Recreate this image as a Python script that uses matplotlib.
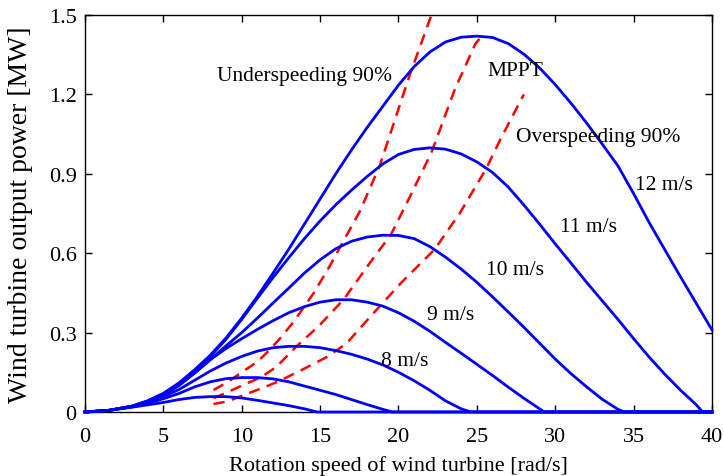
import matplotlib
matplotlib.use("Agg")
import matplotlib.pyplot as plt

# ---- data ----
w6_x = [0, 1.5, 3, 4, 5, 6, 7, 8, 9, 10, 11, 12, 13, 14, 14.8, 40]
w6_y = [0, 0.006, 0.018, 0.027, 0.036, 0.047, 0.055, 0.058, 0.058, 0.053, 0.044, 0.034, 0.024, 0.012, 0.0, 0.0]

w7_x = [0, 1.5, 3, 4, 5, 6, 7, 8, 9, 10, 11, 12, 13, 14, 15, 16, 17, 18, 19, 19.6, 40]
w7_y = [0, 0.006, 0.020, 0.033, 0.050, 0.070, 0.095, 0.114, 0.126, 0.130, 0.130, 0.125, 0.114, 0.098,
        0.082, 0.066, 0.047, 0.028, 0.010, 0.0, 0.0]

w8_x = [0, 1.5, 3, 4, 5, 6, 7, 8, 9, 10, 11, 12, 13, 14, 15, 16, 17, 18, 19, 20, 21, 22, 23, 24, 24.6, 40]
w8_y = [0, 0.006, 0.020, 0.035, 0.058, 0.085, 0.120, 0.155, 0.185, 0.210, 0.230, 0.243, 0.248, 0.248,
        0.243, 0.232, 0.218, 0.200, 0.178, 0.150, 0.118, 0.082, 0.042, 0.012, 0.0, 0.0]

w9_x = [0, 1.5, 3, 4, 5, 6, 7, 8, 9, 10, 11, 12, 13, 14, 15, 16, 17, 18, 19, 20, 21, 22, 23, 24, 25,
        26, 27, 28, 29, 29.3, 40]
w9_y = [0, 0.006, 0.020, 0.038, 0.063, 0.100, 0.148, 0.198, 0.240, 0.277, 0.312, 0.345, 0.375, 0.398,
        0.415, 0.424, 0.424, 0.415, 0.400, 0.375, 0.343, 0.305, 0.263, 0.222, 0.180, 0.138, 0.094,
        0.052, 0.012, 0.0, 0.0]

w10_x = [0, 1.5, 3, 4, 5, 6, 7, 8, 9, 10, 11, 12, 13, 14, 15, 16, 17, 18, 19, 20, 21, 22, 23, 24, 25,
         26, 27, 28, 29, 30, 31, 32, 33, 34, 34.4, 40]
w10_y = [0, 0.006, 0.022, 0.040, 0.068, 0.102, 0.147, 0.198, 0.250, 0.300, 0.355, 0.412, 0.468, 0.525,
         0.575, 0.617, 0.645, 0.661, 0.668, 0.667, 0.655, 0.625, 0.585, 0.540, 0.490, 0.435, 0.378,
         0.320, 0.260, 0.200, 0.145, 0.095, 0.048, 0.010, 0.0, 0.0]

w11_x = [0, 1.5, 3, 4, 5, 6, 7, 8, 9, 10, 11, 12, 13, 14, 15, 16, 17, 18, 19, 20, 21, 22, 23, 24, 25,
         26, 27, 28, 29, 30, 31, 32, 33, 34, 35, 36, 37, 38, 39, 39.4, 40]
w11_y = [0, 0.006, 0.022, 0.042, 0.070, 0.108, 0.155, 0.210, 0.275, 0.350, 0.430, 0.508, 0.583, 0.655,
         0.722, 0.783, 0.838, 0.890, 0.937, 0.973, 0.992, 0.998, 0.993, 0.975, 0.945, 0.905, 0.850,
         0.782, 0.710, 0.635, 0.563, 0.490, 0.420, 0.350, 0.277, 0.207, 0.142, 0.082, 0.027, 0.0, 0.0]

w12_x = [0, 1.5, 3, 4, 5, 6, 7, 8, 9, 10, 11, 12, 13, 14, 15, 16, 17, 18, 19, 20, 21, 22, 23, 24, 25,
         26, 27, 28, 29, 30, 31, 32, 33, 34, 35, 36, 37, 38, 39, 40]
w12_y = [0, 0.006, 0.022, 0.042, 0.070, 0.110, 0.160, 0.215, 0.280, 0.355, 0.437, 0.525, 0.615, 0.710,
         0.805, 0.900, 0.990, 1.075, 1.155, 1.235, 1.305, 1.360, 1.398, 1.416, 1.420, 1.415, 1.392,
         1.352, 1.300, 1.237, 1.167, 1.092, 1.012, 0.930, 0.825, 0.715, 0.612, 0.510, 0.410, 0.310]

under_x = [8.2, 9.1, 10.0, 11.0, 11.7, 12.4, 13.3, 14.6, 15.6, 17.55, 18.8, 20.7, 22.1]
under_y = [0.083, 0.113, 0.150, 0.190, 0.230, 0.275, 0.340, 0.450, 0.550, 0.760, 0.930, 1.270, 1.500]

mppt_x = [8.2, 9.1, 10.2, 11.2, 12.2, 13.5, 15.0, 16.5, 18.5, 19.5, 20.7, 22.1, 23.6, 24.9, 25.3]
mppt_y = [0.052, 0.075, 0.105, 0.130, 0.170, 0.248, 0.330, 0.425, 0.590, 0.668, 0.810, 0.980, 1.220, 1.390, 1.420]

over_x = [8.2, 9.1, 10.3, 11.3, 12.4, 14.2, 15.5, 16.7, 18.2, 20.2, 22.3, 23.9, 25.6, 26.5, 28.0]
over_y = [0.030, 0.040, 0.068, 0.090, 0.117, 0.170, 0.210, 0.260, 0.360, 0.490, 0.614, 0.750, 0.920, 1.030, 1.200]

wind_curves = [(w6_x, w6_y), (w7_x, w7_y), (w8_x, w8_y), (w9_x, w9_y),
               (w10_x, w10_y), (w11_x, w11_y), (w12_x, w12_y)]
red_curves = [(under_x, under_y), (mppt_x, mppt_y), (over_x, over_y)]

x_ticks = [0, 5, 10, 15, 20, 25, 30, 35, 40]
y_ticks = [0, 0.3, 0.6, 0.9, 1.2, 1.5]
y_tick_labels = ["0", "0.3", "0.6", "0.9", "1.2", "1.5"]

annotations = [
    ("Underspeeding 90%", 8.4, 1.273),
    ("MPPT", 25.7, 1.29),
    ("Overspeeding 90%", 27.5, 1.04),
    ("12 m/s", 35.1, 0.86),
    ("11 m/s", 30.3, 0.70),
    ("10 m/s", 25.6, 0.54),
    ("9 m/s", 21.8, 0.37),
    ("8 m/s", 18.9, 0.196),
]

# ---- plot ----
plt.rcParams['font.family'] = ['Liberation Serif', 'DejaVu Serif']

fig = plt.figure(figsize=(7.24, 4.77), dpi=100)
ax = fig.add_axes([0.1174, 0.1342, 0.8660, 0.8323])

for xs, ys in wind_curves:
    ax.plot(xs, ys, color='#0000ff', lw=2.0, clip_on=False, zorder=3,
            solid_joinstyle='round')

for xs, ys in red_curves:
    ax.plot(xs, ys, color='#ff0000', lw=1.8, linestyle=(0, (4.5, 3.0)), zorder=2)

for txt, x, y in annotations:
    ax.text(x, y, txt, fontsize=15.5, ha='left', va='center', color='black')

ax.set_xlim(0, 40)
ax.set_ylim(0, 1.5)
ax.set_xticks(x_ticks)
ax.set_yticks(y_ticks)
ax.set_yticklabels(y_tick_labels)
ax.tick_params(direction='in', top=True, right=True, length=5, width=1,
               labelsize=16)
ax.tick_params(axis='x', pad=11)
ax.tick_params(axis='y', pad=6)
for s in ax.spines.values():
    s.set_linewidth(1.0)

ax.set_xlabel("Rotation speed of wind turbine [rad/s]", fontsize=16, labelpad=6)
ax.set_ylabel("Wind turbine output power [MW]", fontsize=20)
ax.yaxis.set_label_coords(-0.083, 0.5)

fig.savefig("out.png", dpi=100)
